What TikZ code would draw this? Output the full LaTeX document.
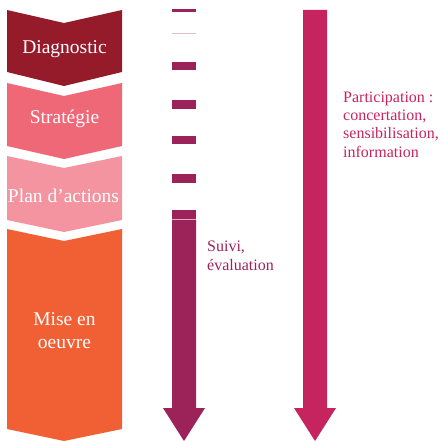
\documentclass[tikz,border=0pt]{standalone}
\usepackage{fontspec}
\setmainfont{Liberation Serif}
\usepackage{xcolor}
\usetikzlibrary{positioning, calc}

\definecolor{diagred}{HTML}{951B2B}
\definecolor{stratpink}{HTML}{EF6878}
\definecolor{planpink}{HTML}{F394A0}
\definecolor{miseorange}{HTML}{F06034}
\definecolor{suivipurple}{HTML}{9B235A}
\definecolor{partpink}{HTML}{C5245E}

\begin{document}
\begin{tikzpicture}[x=1pt,y=-1pt]
	% Define styles for stages and notes
	\tikzstyle{stage} = [text=white, align=center, inner sep=0pt, font=\fontsize{19.5}{23}\selectfont]
	\tikzstyle{note} = [anchor=north west, align=left, inner sep=0pt]
	\useasboundingbox (0,0) rectangle (441,441);
	
	% Draw the four chevrons of the process
	\fill[diagred] (7,10) -- (64,23) -- (122,10) -- (122,72) -- (64,86) -- (7,72) -- cycle;
	\fill[stratpink] (7,83) -- (64,96) -- (122,83) -- (122,146) -- (64,159) -- (7,146) -- cycle;
	\fill[planpink] (7,156) -- (64,168) -- (122,156) -- (122,220) -- (64,232) -- (7,220) -- cycle;
	\fill[miseorange] (7,229) -- (64,241) -- (122,229) -- (122,429) -- (64,441) -- (7,429) -- cycle;
	
	% Annotate the chevrons
	\node[stage, anchor=base] (diag) at (64.5,54) {Diagnostic};
	\node[stage, anchor=base] (strat) at (64.5,124) {Stratégie};
	\node[stage, anchor=base] (plan) at (63.5,202) {Plan d’actions};
	\node[stage] (mise) at (64.5,331) {Mise en\\oeuvre};
	
	% Draw the dashed arrow for monitoring
	\fill[suivipurple] (172,9) rectangle (196,12);
	\fill[suivipurple!30] (172,32.6) rectangle (196,33.6);
	\fill[suivipurple] (172,62) rectangle (196,70);
	\fill[suivipurple] (172,100) rectangle (196,109);
	\fill[suivipurple] (172,136) rectangle (196,144);
	\fill[suivipurple] (172,174) rectangle (196,183);
	\fill[suivipurple] (172,210) rectangle (196,218.5);
	\fill[suivipurple] (172,219.5) -- (196,219.5) -- (196,408) -- (205,408) -- (184,441) -- (163,408) -- (172,408) -- cycle;
	\node[note, text=suivipurple, font=\fontsize{16}{19}\selectfont] (suivi) at (207,240.5) {Suivi,\\évaluation};
	
	% Draw the solid arrow for participation
	\fill[partpink] (303,10) -- (327,10) -- (327,408) -- (336,408) -- (315,441) -- (294,408) -- (303,408) -- cycle;
	\node[note, text=partpink, font=\fontsize{16}{18.3}\selectfont] (part) at (343,91.5) {Participation :\\concertation,\\sensibilisation,\\information};
	
\end{tikzpicture}
\end{document}
